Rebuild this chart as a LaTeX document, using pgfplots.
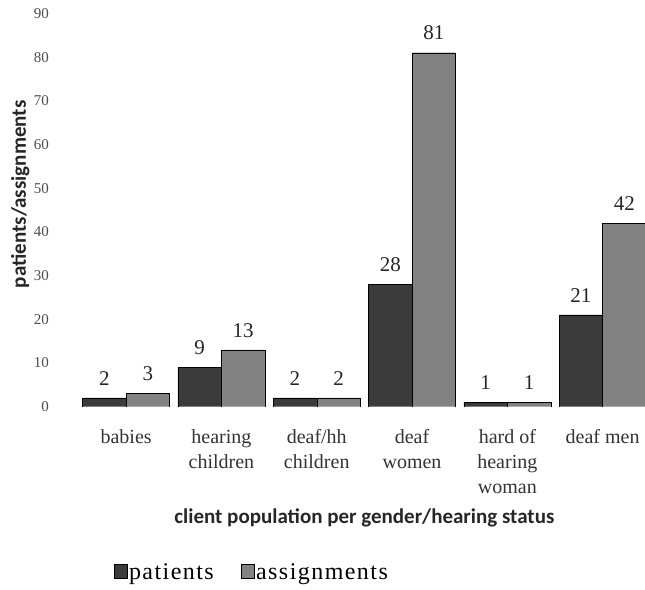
\documentclass[border=0pt]{standalone}
\usepackage{fontspec}
\setmainfont{Liberation Serif}
\newfontfamily\carlito{Carlito}
\newfontfamily\legendfont[LetterSpace=6]{Liberation Serif}
\usepackage{pgfplots}
\pgfplotsset{compat=1.18}
\definecolor{darkbar}{HTML}{3B3B3B}
\definecolor{lightbar}{HTML}{828282}
\begin{document}
\begin{tikzpicture}
\useasboundingbox (0,0) rectangle (645pt,589pt);
\begin{axis}[
  at={(78.5pt,182.3pt)}, anchor=south west,
  scale only axis, width=571.8pt, height=393.3pt,
  xmin=-0.5, xmax=5.5, ymin=0, ymax=90,
  ybar=0pt, bar width=43.5pt,
  axis line style={draw=none},
  tick style={draw=none},
  ytick={0,10,...,90},
  xtick={0,...,5},
  xticklabels={babies, {hearing\\children}, {deaf/hh\\children}, {deaf\\women}, {hard of\\hearing\\woman}, deaf men},
  xticklabel style={align=center, font=\fontsize{20}{25}\selectfont, text=black!80, yshift=-15pt},
  yticklabel style={font=\fontsize{15}{17}\selectfont, text=black!70, xshift=-26pt},
  /pgf/number format/assume math mode=true,
  nodes near coords,
  every node near coord/.append style={font=\fontsize{21}{24}\selectfont, text=black!85, yshift=9pt},
  xlabel={client population per gender/hearing status},
  ylabel={patients/assignments},
  label style={font=\carlito\bfseries\fontsize{21}{24}\selectfont, text=black!85},
  xlabel style={at={(axis description cs:0.5,0)}, anchor=center, yshift=-111.3pt},
  ylabel style={at={(axis description cs:-0.102,0.54)}, anchor=center},
  legend style={at={(axis description cs:0.303,-0.42)}, anchor=center, draw=none, font=\legendfont\fontsize{24}{28}\selectfont, legend columns=2, /tikz/every even column/.append style={column sep=25pt}},
  legend image code/.code={\draw[#1] (0pt,-6pt) rectangle (13pt,8pt);},
]
\addplot[fill=darkbar, draw=black] coordinates {(0,2) (1,9) (2,2) (3,28) (4,1) (5,21)};
\addplot[fill=lightbar, draw=black] coordinates {(0,3) (1,13) (2,2) (3,81) (4,1) (5,42)};
\legend{patients, assignments}
\end{axis}
\end{tikzpicture}
\end{document}
